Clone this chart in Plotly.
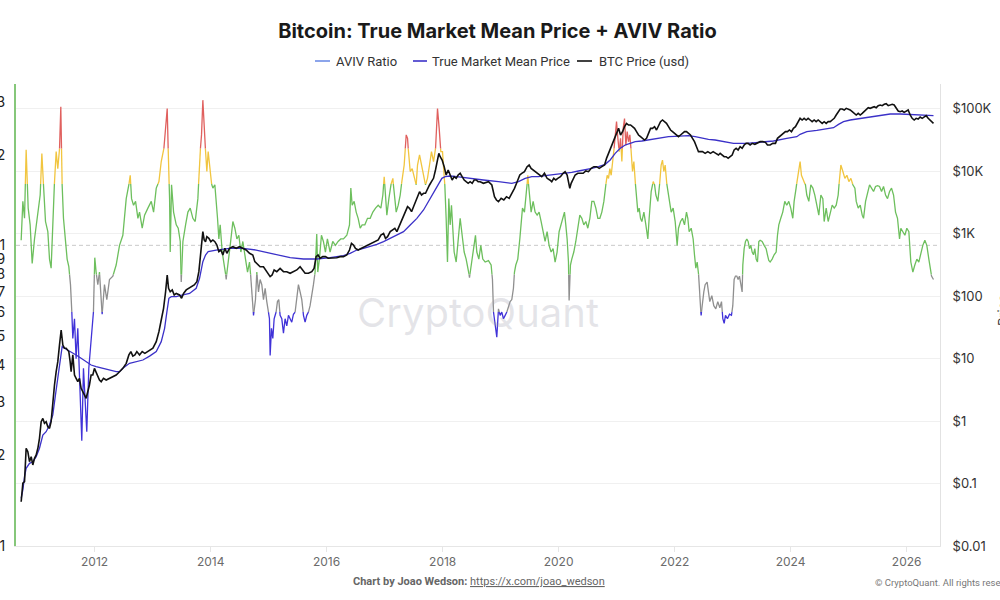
import numpy as np
import pandas as pd
import plotly.graph_objects as go

# ---------------- data (decimal years) ----------------
aviv_t = [
 2010.733, 2010.762, 2010.791, 2010.819, 2010.854, 2010.888, 2010.923, 2010.963, 2010.992, 2011.026,
 2011.061, 2011.090, 2011.118, 2011.153, 2011.193, 2011.222, 2011.250, 2011.279, 2011.308, 2011.337,
 2011.365, 2011.394, 2011.417, 2011.440, 2011.463, 2011.498, 2011.526, 2011.555, 2011.584, 2011.607,
 2011.624, 2011.653, 2011.681, 2011.710, 2011.739, 2011.779, 2011.808, 2011.837, 2011.865, 2011.900,
 2011.940, 2011.980, 2012.003, 2012.026, 2012.055, 2012.084, 2012.113, 2012.130, 2012.170, 2012.210,
 2012.256, 2012.314, 2012.371, 2012.429, 2012.486, 2012.544, 2012.590, 2012.613, 2012.636, 2012.670,
 2012.705, 2012.745, 2012.773, 2012.819, 2012.860, 2012.917, 2012.975, 2013.015, 2013.061, 2013.107,
 2013.147, 2013.187, 2013.222, 2013.250, 2013.268, 2013.279, 2013.291, 2013.302, 2013.325, 2013.360,
 2013.406, 2013.440, 2013.475, 2013.492, 2013.521, 2013.567, 2013.607, 2013.647, 2013.693, 2013.733,
 2013.779, 2013.796, 2013.819, 2013.842, 2013.865, 2013.888, 2013.911, 2013.934, 2013.957, 2013.980,
 2014.003, 2014.038, 2014.072, 2014.095, 2014.118, 2014.141, 2014.164, 2014.199, 2014.239, 2014.268,
 2014.302, 2014.337, 2014.383, 2014.417, 2014.452, 2014.486, 2014.521, 2014.555, 2014.601, 2014.636,
 2014.670, 2014.704, 2014.739, 2014.773, 2014.796, 2014.825, 2014.853, 2014.882, 2014.911, 2014.940,
 2014.968, 2014.997, 2015.014, 2015.026, 2015.049, 2015.072, 2015.095, 2015.129, 2015.152, 2015.175,
 2015.198, 2015.227, 2015.256, 2015.284, 2015.313, 2015.342, 2015.371, 2015.399, 2015.428, 2015.457,
 2015.486, 2015.514, 2015.543, 2015.572, 2015.601, 2015.629, 2015.658, 2015.687, 2015.715, 2015.773,
 2015.802, 2015.830, 2015.848, 2015.876, 2015.911, 2015.945, 2015.980, 2016.014, 2016.060, 2016.106,
 2016.152, 2016.198, 2016.244, 2016.290, 2016.348, 2016.394, 2016.417, 2016.440, 2016.474, 2016.509,
 2016.543, 2016.578, 2016.612, 2016.658, 2016.704, 2016.750, 2016.796, 2016.842, 2016.888, 2016.934,
 2016.968, 2016.991, 2017.014, 2017.037, 2017.072, 2017.106, 2017.141, 2017.164, 2017.198, 2017.233,
 2017.267, 2017.302, 2017.336, 2017.371, 2017.394, 2017.417, 2017.440, 2017.474, 2017.509, 2017.543,
 2017.566, 2017.601, 2017.635, 2017.670, 2017.704, 2017.738, 2017.773, 2017.807, 2017.842, 2017.876,
 2017.911, 2017.940, 2017.968, 2017.997, 2018.014, 2018.037, 2018.060, 2018.083, 2018.106, 2018.129,
 2018.152, 2018.175, 2018.198, 2018.233, 2018.267, 2018.302, 2018.336, 2018.371, 2018.405, 2018.440,
 2018.463, 2018.497, 2018.532, 2018.566, 2018.589, 2018.624, 2018.658, 2018.692, 2018.733, 2018.790,
 2018.836, 2018.859, 2018.877, 2018.905, 2018.934, 2018.963, 2018.992, 2019.020, 2019.049, 2019.078,
 2019.107, 2019.135, 2019.164, 2019.193, 2019.221, 2019.239, 2019.262, 2019.296, 2019.331, 2019.354,
 2019.377, 2019.411, 2019.446, 2019.469, 2019.492, 2019.526, 2019.561, 2019.595, 2019.630, 2019.664,
 2019.699, 2019.733, 2019.767, 2019.802, 2019.836, 2019.871, 2019.905, 2019.940, 2019.974, 2020.009,
 2020.043, 2020.078, 2020.101, 2020.124, 2020.147, 2020.170, 2020.181, 2020.204, 2020.227, 2020.262,
 2020.296, 2020.331, 2020.365, 2020.400, 2020.434, 2020.469, 2020.503, 2020.538, 2020.572, 2020.607,
 2020.641, 2020.676, 2020.710, 2020.744, 2020.779, 2020.813, 2020.836, 2020.859, 2020.882, 2020.905,
 2020.928, 2020.951, 2020.974, 2020.997, 2021.020, 2021.043, 2021.066, 2021.089, 2021.112, 2021.135,
 2021.158, 2021.181, 2021.204, 2021.227, 2021.250, 2021.273, 2021.296, 2021.319, 2021.342, 2021.365,
 2021.388, 2021.411, 2021.434, 2021.469, 2021.503, 2021.537, 2021.560, 2021.595, 2021.630, 2021.653,
 2021.676, 2021.710, 2021.745, 2021.767, 2021.790, 2021.813, 2021.836, 2021.859, 2021.882, 2021.905,
 2021.940, 2021.974, 2022.009, 2022.043, 2022.066, 2022.101, 2022.135, 2022.170, 2022.204, 2022.227,
 2022.250, 2022.285, 2022.319, 2022.342, 2022.365, 2022.388, 2022.411, 2022.434, 2022.457, 2022.480,
 2022.503, 2022.526, 2022.560, 2022.583, 2022.606, 2022.641, 2022.675, 2022.710, 2022.744, 2022.779,
 2022.808, 2022.831, 2022.854, 2022.877, 2022.911, 2022.946, 2022.980, 2023.003, 2023.026, 2023.049,
 2023.072, 2023.095, 2023.118, 2023.141, 2023.164, 2023.176, 2023.199, 2023.222, 2023.245, 2023.268,
 2023.291, 2023.314, 2023.337, 2023.360, 2023.383, 2023.406, 2023.429, 2023.452, 2023.475, 2023.509,
 2023.544, 2023.578, 2023.601, 2023.624, 2023.647, 2023.682, 2023.716, 2023.751, 2023.774, 2023.797,
 2023.831, 2023.865, 2023.900, 2023.934, 2023.969, 2024.003, 2024.038, 2024.061, 2024.095, 2024.118,
 2024.141, 2024.164, 2024.187, 2024.222, 2024.256, 2024.279, 2024.314, 2024.348, 2024.383, 2024.417,
 2024.452, 2024.486, 2024.521, 2024.555, 2024.578, 2024.613, 2024.647, 2024.682, 2024.716, 2024.751,
 2024.785, 2024.819, 2024.842, 2024.865, 2024.900, 2024.934, 2024.969, 2025.003, 2025.038, 2025.072,
 2025.107, 2025.130, 2025.164, 2025.199, 2025.233, 2025.256, 2025.291, 2025.325, 2025.360, 2025.394,
 2025.429, 2025.463, 2025.498, 2025.532, 2025.567, 2025.601, 2025.636, 2025.670, 2025.705, 2025.739,
 2025.774, 2025.808, 2025.842, 2025.877, 2025.900, 2025.934, 2025.969, 2026.003, 2026.038, 2026.072,
 2026.107, 2026.141, 2026.176, 2026.210, 2026.245, 2026.279, 2026.314, 2026.348, 2026.383, 2026.406,
 2026.429, 2026.463,
]
aviv_v = [
 1.04, 1.40, 1.23, 2.08, 1.33, 1.17, 0.87, 1.05, 1.17, 1.29,
 1.47, 2.02, 1.59, 1.20, 1.11, 0.90, 0.84, 1.17, 1.63, 2.05,
 1.80, 2.07, 2.89, 1.59, 1.23, 1.05, 0.90, 0.85, 0.74, 0.60,
 0.49, 0.57, 0.42, 0.53, 0.34, 0.224, 0.39, 0.29, 0.24, 0.39,
 0.49, 0.60, 0.91, 0.815, 0.74, 0.815, 0.65, 0.59, 0.74, 0.66,
 0.77, 0.79, 0.86, 1.00, 1.08, 1.43, 1.59, 1.71, 1.43, 1.36,
 1.40, 1.23, 1.29, 1.14, 1.26, 1.33, 1.40, 1.29, 1.55, 1.63,
 1.90, 2.05, 2.39, 2.85, 2.05, 1.71, 1.43, 0.95, 1.59, 1.29,
 1.17, 1.14, 1.03, 0.755, 1.03, 1.17, 1.29, 1.33, 1.23, 1.20,
 1.43, 1.67, 2.05, 2.33, 3.04, 2.58, 2.05, 1.76, 2.05, 1.85,
 1.63, 1.55, 1.59, 1.43, 1.23, 1.05, 1.17, 0.95, 0.86, 0.77,
 0.90, 1.00, 1.20, 1.14, 1.05, 1.08, 0.95, 1.03, 0.90, 0.815,
 0.88, 0.74, 0.585, 0.66, 0.815, 0.70, 0.77, 0.74, 0.66, 0.72,
 0.65, 0.60, 0.57, 0.43, 0.53, 0.49, 0.57, 0.60, 0.65, 0.66,
 0.585, 0.57, 0.51, 0.57, 0.54, 0.585, 0.57, 0.555, 0.59, 0.60,
 0.66, 0.74, 0.70, 0.66, 0.585, 0.555, 0.585, 0.60, 0.63, 0.74,
 0.815, 1.09, 0.815, 0.90, 1.08, 1.03, 0.95, 1.05, 0.95, 1.03,
 1.00, 1.03, 1.05, 1.05, 1.08, 1.17, 1.55, 1.36, 1.40, 1.29,
 1.23, 1.14, 1.17, 1.17, 1.23, 1.23, 1.29, 1.33, 1.36, 1.33,
 1.47, 1.69, 1.47, 1.26, 1.43, 1.59, 1.67, 1.47, 1.29, 1.36,
 1.47, 1.67, 1.85, 2.33, 2.27, 1.95, 1.76, 1.80, 1.67, 1.59,
 1.85, 2.00, 1.85, 1.67, 1.59, 1.67, 1.85, 2.05, 1.90, 2.08,
 2.85, 2.45, 2.05, 2.05, 1.76, 1.59, 1.23, 0.88, 1.43, 1.17,
 1.36, 1.14, 0.95, 0.88, 1.03, 1.23, 1.08, 0.95, 0.90, 0.84,
 0.78, 0.88, 1.00, 1.08, 0.95, 0.90, 1.00, 0.90, 0.88, 0.89,
 0.86, 0.77, 0.60, 0.54, 0.495, 0.615, 0.585, 0.60, 0.57, 0.585,
 0.60, 0.63, 0.65, 0.66, 0.72, 0.815, 0.86, 0.90, 1.05, 1.23,
 1.33, 1.29, 1.51, 1.71, 1.51, 1.29, 1.40, 1.29, 1.26, 1.29,
 1.20, 1.11, 1.03, 1.11, 1.00, 0.95, 0.975, 0.88, 0.95, 1.11,
 1.17, 1.26, 1.29, 1.17, 1.05, 0.88, 0.656, 0.86, 0.90, 0.95,
 1.03, 1.14, 1.26, 1.23, 1.17, 1.20, 1.14, 1.23, 1.40, 1.40,
 1.33, 1.23, 1.23, 1.29, 1.40, 1.59, 1.71, 1.67, 1.80, 1.71,
 1.90, 2.05, 2.39, 2.58, 2.27, 2.05, 2.27, 1.90, 2.45, 2.64,
 2.15, 2.39, 2.21, 2.33, 2.05, 1.76, 1.90, 1.63, 1.47, 1.29,
 1.33, 1.23, 1.20, 1.29, 1.17, 1.05, 1.23, 1.51, 1.63, 1.59,
 1.47, 1.40, 1.63, 1.85, 1.92, 1.76, 1.85, 1.63, 1.51, 1.40,
 1.29, 1.33, 1.20, 1.00, 1.14, 1.20, 1.23, 1.17, 1.29, 1.23,
 1.11, 1.14, 1.05, 0.93, 0.84, 0.88, 0.815, 0.65, 0.585, 0.65,
 0.70, 0.74, 0.755, 0.70, 0.65, 0.68, 0.63, 0.615, 0.65, 0.62,
 0.65, 0.57, 0.55, 0.585, 0.57, 0.59, 0.585, 0.63, 0.77, 0.79,
 0.79, 0.77, 0.79, 0.74, 0.70, 0.86, 0.975, 1.03, 1.05, 1.03,
 0.975, 1.00, 0.95, 0.93, 0.975, 0.90, 0.88, 1.03, 1.04, 1.03,
 1.00, 0.975, 0.93, 0.89, 0.88, 0.90, 0.93, 0.95, 1.08, 1.17,
 1.23, 1.29, 1.40, 1.36, 1.40, 1.33, 1.23, 1.40, 1.55, 1.67,
 1.80, 1.90, 1.71, 1.63, 1.59, 1.47, 1.40, 1.59, 1.55, 1.47,
 1.36, 1.26, 1.47, 1.43, 1.20, 1.33, 1.20, 1.29, 1.36, 1.33,
 1.36, 1.47, 1.67, 1.85, 1.76, 1.67, 1.71, 1.63, 1.67, 1.59,
 1.55, 1.40, 1.33, 1.36, 1.26, 1.23, 1.40, 1.51, 1.59, 1.55,
 1.51, 1.57, 1.58, 1.57, 1.51, 1.57, 1.47, 1.43, 1.51, 1.55,
 1.47, 1.29, 1.23, 1.05, 1.14, 1.11, 1.08, 1.14, 1.11, 0.88,
 0.815, 0.86, 0.90, 0.88, 0.95, 1.00, 1.04, 1.00, 0.90, 0.85,
 0.79, 0.77,
]

btc_t = [
 2010.733, 2010.762, 2010.791, 2010.819, 2010.848, 2010.877, 2010.906, 2010.934, 2010.963, 2010.992,
 2011.021, 2011.049, 2011.078, 2011.107, 2011.135, 2011.164, 2011.193, 2011.222, 2011.250, 2011.279,
 2011.308, 2011.337, 2011.365, 2011.394, 2011.423, 2011.452, 2011.480, 2011.509, 2011.555, 2011.578,
 2011.595, 2011.624, 2011.653, 2011.681, 2011.710, 2011.739, 2011.767, 2011.796, 2011.825, 2011.854,
 2011.882, 2011.911, 2011.940, 2011.969, 2011.997, 2012.026, 2012.055, 2012.084, 2012.113, 2012.153,
 2012.199, 2012.256, 2012.314, 2012.371, 2012.429, 2012.486, 2012.544, 2012.590, 2012.624, 2012.658,
 2012.693, 2012.727, 2012.773, 2012.819, 2012.865, 2012.911, 2012.957, 2013.003, 2013.061, 2013.107,
 2013.153, 2013.187, 2013.222, 2013.250, 2013.273, 2013.302, 2013.337, 2013.371, 2013.406, 2013.463,
 2013.498, 2013.532, 2013.578, 2013.624, 2013.670, 2013.716, 2013.762, 2013.796, 2013.819, 2013.842,
 2013.865, 2013.888, 2013.911, 2013.934, 2013.969, 2014.003, 2014.038, 2014.072, 2014.107, 2014.141,
 2014.176, 2014.210, 2014.245, 2014.279, 2014.325, 2014.383, 2014.440, 2014.498, 2014.555, 2014.612,
 2014.670, 2014.727, 2014.762, 2014.853, 2014.911, 2014.968, 2015.026, 2015.060, 2015.095, 2015.141,
 2015.198, 2015.256, 2015.313, 2015.371, 2015.428, 2015.486, 2015.543, 2015.589, 2015.629, 2015.687,
 2015.744, 2015.784, 2015.819, 2015.853, 2015.888, 2015.934, 2015.980, 2016.026, 2016.072, 2016.118,
 2016.175, 2016.233, 2016.290, 2016.348, 2016.394, 2016.428, 2016.463, 2016.497, 2016.543, 2016.601,
 2016.658, 2016.715, 2016.773, 2016.830, 2016.888, 2016.934, 2016.980, 2017.014, 2017.049, 2017.095,
 2017.141, 2017.175, 2017.210, 2017.244, 2017.279, 2017.325, 2017.359, 2017.394, 2017.428, 2017.463,
 2017.497, 2017.532, 2017.566, 2017.601, 2017.635, 2017.670, 2017.704, 2017.738, 2017.773, 2017.807,
 2017.842, 2017.876, 2017.911, 2017.934, 2017.957, 2017.991, 2018.026, 2018.060, 2018.095, 2018.129,
 2018.164, 2018.198, 2018.233, 2018.267, 2018.302, 2018.336, 2018.371, 2018.405, 2018.440, 2018.474,
 2018.509, 2018.543, 2018.578, 2018.612, 2018.647, 2018.704, 2018.790, 2018.848, 2018.894, 2018.928,
 2018.963, 2019.009, 2019.055, 2019.101, 2019.147, 2019.193, 2019.239, 2019.285, 2019.331, 2019.365,
 2019.411, 2019.457, 2019.492, 2019.526, 2019.561, 2019.595, 2019.630, 2019.664, 2019.710, 2019.756,
 2019.802, 2019.848, 2019.882, 2019.917, 2019.951, 2019.986, 2020.032, 2020.078, 2020.112, 2020.147,
 2020.170, 2020.193, 2020.216, 2020.250, 2020.285, 2020.331, 2020.377, 2020.423, 2020.469, 2020.515,
 2020.561, 2020.607, 2020.653, 2020.699, 2020.744, 2020.791, 2020.825, 2020.859, 2020.894, 2020.928,
 2020.963, 2020.997, 2021.032, 2021.066, 2021.101, 2021.135, 2021.170, 2021.204, 2021.239, 2021.273,
 2021.308, 2021.342, 2021.377, 2021.411, 2021.446, 2021.480, 2021.515, 2021.549, 2021.584, 2021.618,
 2021.653, 2021.687, 2021.722, 2021.756, 2021.790, 2021.825, 2021.859, 2021.894, 2021.929, 2021.963,
 2021.998, 2022.032, 2022.066, 2022.101, 2022.135, 2022.170, 2022.204, 2022.239, 2022.273, 2022.308,
 2022.342, 2022.377, 2022.411, 2022.446, 2022.480, 2022.526, 2022.572, 2022.618, 2022.664, 2022.710,
 2022.756, 2022.785, 2022.819, 2022.854, 2022.888, 2022.923, 2022.957, 2022.992, 2023.026, 2023.061,
 2023.095, 2023.130, 2023.164, 2023.199, 2023.233, 2023.268, 2023.302, 2023.337, 2023.383, 2023.429,
 2023.475, 2023.521, 2023.567, 2023.601, 2023.647, 2023.693, 2023.739, 2023.774, 2023.808, 2023.842,
 2023.877, 2023.911, 2023.946, 2023.980, 2024.015, 2024.049, 2024.084, 2024.118, 2024.141, 2024.164,
 2024.199, 2024.233, 2024.268, 2024.302, 2024.337, 2024.371, 2024.406, 2024.440, 2024.475, 2024.509,
 2024.544, 2024.578, 2024.613, 2024.647, 2024.682, 2024.716, 2024.751, 2024.785, 2024.819, 2024.854,
 2024.888, 2024.923, 2024.957, 2024.992, 2025.026, 2025.061, 2025.095, 2025.130, 2025.164, 2025.199,
 2025.233, 2025.268, 2025.302, 2025.337, 2025.371, 2025.406, 2025.440, 2025.475, 2025.509, 2025.544,
 2025.578, 2025.613, 2025.647, 2025.682, 2025.716, 2025.751, 2025.785, 2025.819, 2025.854, 2025.888,
 2025.923, 2025.957, 2025.992, 2026.026, 2026.061, 2026.095, 2026.130, 2026.164, 2026.199, 2026.233,
 2026.268, 2026.302, 2026.337, 2026.371, 2026.406, 2026.440, 2026.463,
]
btc_p = [
 0.051, 0.101, 0.107, 0.366, 0.323, 0.223, 0.269, 0.198, 0.253, 0.286,
 0.366, 0.528, 0.975, 1.10, 0.919, 0.975, 0.811, 0.763, 0.975, 2.04,
 3.77, 6.15, 8.9, 16.4, 28.6, 16.4, 14.6, 14.6, 12.9, 8.9,
 6.15, 11.4, 5.45, 4.82, 4.26, 4.82, 3.33, 2.94, 2.61, 2.31,
 2.94, 3.77, 5.45, 5.45, 6.96, 6.15, 5.45, 4.53, 4.26, 4.82,
 4.53, 4.82, 5.12, 5.45, 6.15, 6.96, 8.37, 11.4, 12.9, 10.9,
 11.4, 12.9, 11.4, 12.9, 12.1, 12.9, 13.7, 14.6, 18.6, 26.9,
 44, 63.5, 117, 217, 133, 117, 125, 104, 110, 104,
 91.8, 110, 125, 133, 141, 150, 169, 245, 401, 740,
 1070, 787, 740, 890, 837, 740, 787, 740, 655, 512,
 544, 453, 579, 482, 579, 615, 579, 615, 579, 544,
 482, 453, 354, 294, 294, 245, 204, 217, 261, 245,
 277, 245, 245, 231, 245, 261, 294, 261, 231, 231,
 245, 277, 426, 453, 401, 426, 426, 401, 401, 401,
 410, 426, 426, 453, 544, 697, 655, 579, 544, 579,
 615, 655, 697, 740, 787, 946, 1006, 837, 890, 1070,
 1138, 1210, 1070, 1285, 1546, 1977, 2377, 2687, 2529, 2235,
 2687, 3228, 3881, 4667, 4130, 4395, 4395, 5284, 5970, 6745,
 7640, 10380, 15000, 19190, 16940, 15000, 11720, 8630, 10380, 8630,
 7180, 8110, 7640, 8630, 9180, 8110, 7180, 6745, 6350, 6745,
 6350, 7180, 7180, 6745, 6745, 6350, 6745, 5970, 3881, 3436,
 3228, 3652, 3436, 3881, 3652, 4395, 5284, 6745, 8630, 9180,
 9760, 11720, 12470, 11030, 10380, 9760, 9180, 8630, 8110, 9180,
 7640, 7180, 6745, 7640, 7180, 7640, 8110, 9180, 9760, 8630,
 6745, 5284, 6350, 7640, 8630, 9180, 9180, 9180, 10000, 9760,
 11030, 11720, 11720, 11030, 11720, 12470, 15950, 19190, 21680, 26060,
 33320, 40060, 48160, 37670, 42590, 51210, 57890, 54450, 54450, 51210,
 48160, 42590, 37670, 35410, 33320, 31330, 33320, 40060, 48160, 48160,
 51210, 45290, 54450, 61560, 65460, 61560, 57890, 51210, 45290, 42590,
 40060, 37670, 35410, 37670, 40060, 42590, 42590, 40060, 37670, 33320,
 29460, 24500, 20380, 20380, 20380, 19190, 20380, 19190, 20380, 19190,
 18030, 19190, 18030, 16940, 16940, 15950, 16940, 18030, 21680, 23050,
 21680, 24500, 23050, 26060, 27710, 27710, 26060, 27710, 26710, 27710,
 29460, 29460, 28750, 26060, 26060, 27710, 27710, 33320, 35410, 37670,
 40060, 42590, 42590, 45290, 42590, 48160, 51210, 57890, 65460, 69610,
 65460, 69610, 65460, 69610, 65460, 61560, 65460, 61560, 65460, 61560,
 57890, 61560, 57890, 61560, 61560, 65460, 69610, 78700, 89000, 98170,
 98170, 94620, 100600, 98170, 94620, 89000, 83690, 78700, 83690, 78700,
 83690, 89000, 94620, 103100, 100600, 103100, 106990, 103100, 110990, 113760,
 110990, 116600, 119500, 110990, 113760, 116600, 113760, 100600, 91200, 89000,
 91200, 86850, 91200, 94620, 78700, 69610, 65460, 69610, 67920, 73110,
 69610, 74000, 76800, 69610, 65460, 60090, 57890,
]

tmm_t = [
 2010.733, 2010.762, 2010.791, 2010.819, 2010.877, 2010.934, 2010.992, 2011.049, 2011.107, 2011.164,
 2011.222, 2011.279, 2011.325, 2011.365, 2011.405, 2011.440, 2011.480, 2011.538, 2011.595, 2011.681,
 2011.767, 2011.854, 2011.940, 2012.026, 2012.141, 2012.256, 2012.371, 2012.429, 2012.486, 2012.601,
 2012.716, 2012.831, 2012.946, 2013.061, 2013.147, 2013.205, 2013.245, 2013.279, 2013.320, 2013.406,
 2013.521, 2013.636, 2013.750, 2013.808, 2013.865, 2013.911, 2013.957, 2014.095, 2014.325, 2014.555,
 2014.785, 2014.911, 2015.141, 2015.371, 2015.601, 2015.830, 2016.060, 2016.290, 2016.405, 2016.520,
 2016.635, 2016.750, 2016.865, 2016.980, 2017.095, 2017.210, 2017.325, 2017.440, 2017.555, 2017.670,
 2017.785, 2017.871, 2017.928, 2017.986, 2018.043, 2018.129, 2018.244, 2018.359, 2018.474, 2018.589,
 2018.704, 2018.963, 2019.193, 2019.308, 2019.423, 2019.538, 2019.653, 2019.767, 2019.882, 2019.997,
 2020.112, 2020.227, 2020.342, 2020.457, 2020.572, 2020.687, 2020.802, 2020.888, 2020.974, 2021.061,
 2021.147, 2021.233, 2021.319, 2021.434, 2021.549, 2021.664, 2021.779, 2021.894, 2022.009, 2022.124,
 2022.239, 2022.354, 2022.469, 2022.583, 2022.698, 2022.813, 2023.015, 2023.245, 2023.475, 2023.705,
 2023.934, 2024.107, 2024.164, 2024.279, 2024.452, 2024.624, 2024.739, 2024.825, 2024.911, 2025.026,
 2025.199, 2025.371, 2025.544, 2025.716, 2025.888, 2026.061, 2026.233, 2026.463,
]
tmm_p = [
 0.058, 0.0787, 0.129, 0.175, 0.21, 0.223, 0.269, 0.366, 0.597, 0.675,
 0.863, 1.25, 2.61, 4.82, 10.1, 15.5, 14.6, 13.7, 12.9, 11.4,
 10.1, 8.9, 7.87, 7.4, 6.96, 6.55, 6.15, 6.15, 6.96, 8.37,
 8.9, 9.46, 10.9, 12.9, 18.6, 30.4, 56.2, 91.8, 97.6, 97.6,
 104, 110, 133, 192, 354, 453, 512, 544, 579, 579,
 544, 512, 453, 410, 391, 391, 410, 442, 482, 544,
 579, 615, 671, 740, 837, 946, 1070, 1368, 1748, 2377,
 3652, 4966, 6350, 7640, 8110, 8318, 8110, 7824, 7640, 7447,
 7180, 6745, 6350, 6745, 7640, 8110, 8110, 8420, 8630, 8845,
 9180, 9522, 10000, 10380, 11030, 11720, 12790, 15000, 19190, 23050,
 26060, 27710, 29460, 30200, 31330, 33320, 34570, 35410, 35860, 36760,
 36760, 35410, 33320, 32120, 31330, 30200, 27710, 27710, 28750, 30200,
 33320, 35410, 38620, 42590, 44750, 46990, 49350, 55800, 61560, 65460,
 69610, 74000, 78700, 81660, 81660, 80720, 78700, 76800,
]

tick_years = [2012, 2014, 2016, 2018, 2020, 2022, 2024, 2026]
aviv_ticks = [0.1, 0.2, 0.3, 0.4, 0.5, 0.6, 0.7, 0.8, 0.9, 1, 2, 3]
price_ticks = [0.01, 0.1, 1, 10, 100, 1000, 10000, 100000]
price_ticktext = ["$0.01", "$0.1", "$1", "$10", "$100", "$1K", "$10K", "$100K"]

# AVIV colour zones (visual map): upper bound and colour
zone_bounds = [0.6, 0.8, 1.6, 2.1]
zone_colors = ["#4032d8", "#8f8f8f", "#6dbf5d", "#f1c53f", "#e0605e"]

assert len(aviv_t) == len(aviv_v)
assert len(btc_t) == len(btc_p)
assert len(tmm_t) == len(tmm_p)


def to_date(t):
    y = int(np.floor(t))
    a = pd.Timestamp(year=y, month=1, day=1)
    b = pd.Timestamp(year=y + 1, month=1, day=1)
    return a + (b - a) * (t - y)


def zone_of(v):
    for i, b in enumerate(zone_bounds):
        if v < b:
            return i
    return len(zone_bounds)


# split the AVIV line where it crosses a zone bound so each zone gets its colour
zx = {i: [] for i in range(len(zone_colors))}
zy = {i: [] for i in range(len(zone_colors))}
prev_zone = None
for i in range(len(aviv_t) - 1):
    t0, t1 = aviv_t[i], aviv_t[i + 1]
    l0, l1 = np.log10(aviv_v[i]), np.log10(aviv_v[i + 1])
    cuts = [0.0, 1.0]
    for b in zone_bounds:
        lb = np.log10(b)
        if (l0 - lb) * (l1 - lb) < 0:
            cuts.append((lb - l0) / (l1 - l0))
    cuts.sort()
    for a, c in zip(cuts[:-1], cuts[1:]):
        mid = l0 + (l1 - l0) * (a + c) / 2
        z = zone_of(10 ** mid)
        pa = (t0 + (t1 - t0) * a, 10 ** (l0 + (l1 - l0) * a))
        pc = (t0 + (t1 - t0) * c, 10 ** (l0 + (l1 - l0) * c))
        if z != prev_zone:
            if zx[z]:
                zx[z].append(None)
                zy[z].append(None)
            zx[z].append(to_date(pa[0]))
            zy[z].append(pa[1])
        zx[z].append(to_date(pc[0]))
        zy[z].append(pc[1])
        prev_zone = z

fig = go.Figure()
for z in range(len(zone_colors)):
    fig.add_trace(go.Scatter(
        x=zx[z], y=zy[z], mode="lines", yaxis="y", connectgaps=False,
        line=dict(color=zone_colors[z], width=1.3), showlegend=False,
        hoverinfo="skip"))

fig.add_trace(go.Scatter(
    x=[to_date(t) for t in tmm_t], y=tmm_p, mode="lines", yaxis="y2",
    name="True Market Mean Price", line=dict(color="#3b31c8", width=1.3),
    showlegend=False))
fig.add_trace(go.Scatter(
    x=[to_date(t) for t in btc_t], y=btc_p, mode="lines", yaxis="y2",
    name="BTC Price (usd)", line=dict(color="#111111", width=1.6),
    showlegend=False))

# ---------------- layout ----------------
W, H = 1000, 600
L, R, T, B = 16, 60, 84, 54
PW, PH = W - L - R, H - T - B


def px(xp):
    return (xp - L) / PW


def py(yp):
    return (H - B - yp) / PH


FONT = "Inter, Roboto, Arial, sans-serif"
FONT2 = "Roboto, Inter, Arial, sans-serif"

fig.update_layout(
    width=W, height=H, autosize=False,
    margin=dict(l=L, r=R, t=T, b=B, pad=0),
    paper_bgcolor="white", plot_bgcolor="white",
    font=dict(family=FONT, color="#333"),
    showlegend=False,
    title=dict(text="<b>Bitcoin: True Market Mean Price + AVIV Ratio</b>",
               x=497.5 / W, xanchor="center", xref="container",
               y=1 - 31 / H, yanchor="middle", yref="container",
               font=dict(size=20, color="#1a1a1a", family=FONT)),
    xaxis=dict(type="date", range=["2010-08-24", "2026-07-30"],
               tickvals=[pd.Timestamp(year=y, month=1, day=1) for y in tick_years],
               ticktext=[str(y) for y in tick_years],
               showgrid=False, zeroline=False,
               showline=True, linecolor="#e6e6e6", linewidth=1,
               ticks="outside", ticklen=5, tickcolor="#e6e6e6",
               tickfont=dict(size=12, color="#6b6b6b"), automargin=False),
    yaxis=dict(type="log", range=[-1, 0.5366], side="left",
               tickvals=aviv_ticks, ticktext=[str(v) for v in aviv_ticks],
               showgrid=False, zeroline=False,
               showline=True, linecolor="#86c77a", linewidth=2,
               ticks="", ticklabelstandoff=6,
               tickfont=dict(size=14, color="#222"), automargin=False),
    yaxis2=dict(type="log", range=[-2, 5.392], side="right", overlaying="y",
                tickvals=price_ticks, ticktext=price_ticktext,
                showgrid=True, gridcolor="#f0f0f0", gridwidth=1, zeroline=False,
                showline=True, linecolor="#e2e2e2", linewidth=1,
                ticks="", ticklabelstandoff=9,
                tickfont=dict(size=13, color="#333"), automargin=False),
)

# dashed reference at AVIV = 1
fig.add_shape(type="line", xref="paper", x0=0, x1=1, yref="y", y0=1, y1=1,
              line=dict(color="#c9c9c9", width=1, dash="4px,3px"), layer="below")

# custom legend
legend_items = [
    ("AVIV Ratio", "#6f8fe6", 315, 330, 334),
    ("True Market Mean Price", "#3b31c8", 413, 427, 430),
    ("BTC Price (usd)", "#111111", 577, 592, 597),
]
for label, col, x0, x1, xt in legend_items:
    fig.add_shape(type="line", xref="paper", yref="paper",
                  x0=px(x0), x1=px(x1), y0=py(61), y1=py(61),
                  line=dict(color=col, width=1.6))
    fig.add_annotation(text=label, xref="paper", yref="paper",
                       x=px(xt), y=py(61), xanchor="left", yanchor="middle",
                       showarrow=False, font=dict(size=13, color="#333", family=FONT2))

# watermark
fig.add_annotation(text="CryptoQuant", xref="paper", yref="paper",
                   x=px(478), y=py(312), xanchor="center", yanchor="middle",
                   showarrow=False,
                   font=dict(size=40, color="rgba(150,150,165,0.25)", family=FONT))

# right axis title (mostly cut by the page edge)
fig.add_annotation(text="Price", xref="paper", yref="paper",
                   x=px(1003), y=py(310), xanchor="center", yanchor="middle",
                   textangle=-90, showarrow=False,
                   font=dict(size=13, color="#333", family=FONT))

# footer
fig.add_annotation(text="<b>Chart by Joao Wedson:</b> <u>https://x.com/joao_wedson</u>",
                   xref="paper", yref="paper", x=px(351), y=py(581),
                   xanchor="left", yanchor="middle", showarrow=False,
                   font=dict(size=11, color="#666", family=FONT2))
fig.add_annotation(text="© CryptoQuant. All rights reserved.",
                   xref="paper", yref="paper", x=px(873), y=py(582),
                   xanchor="left", yanchor="middle", showarrow=False,
                   font=dict(size=9.5, color="#777", family=FONT2))

fig.write_html("out.html")
